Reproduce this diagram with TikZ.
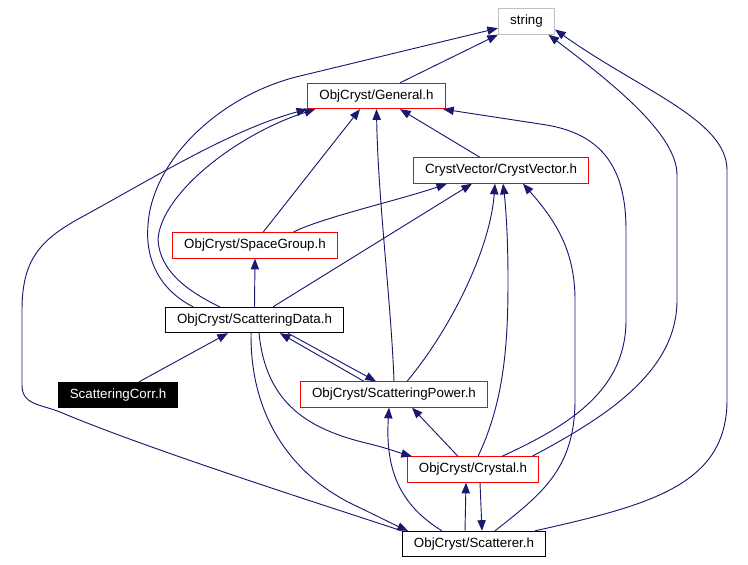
\documentclass[tikz,border=0pt]{standalone}
\usepackage{fontspec}
\setmainfont{Liberation Sans}
\usepackage{xcolor}
\usetikzlibrary{arrows.meta}
\definecolor{depblue}{RGB}{25,25,112}

\begin{document}
\begin{tikzpicture}[
    x=0.75pt, y=-0.75pt,
    box/.style={draw, align=center, minimum height=19pt, inner xsep=8.8pt, inner ysep=0pt,
                line width=0.75pt, font=\fontsize{10}{12}\selectfont},
    redbox/.style={box, draw=red},
    greybox/.style={box, draw=black!25},
    dep/.style={-{Triangle[length=8pt,width=6.2pt]}, draw=depblue, line width=0.7pt}
]
\useasboundingbox (0,0) rectangle (748,564);
\node[greybox] (str) at (526.5,21.5) {string};
\node[redbox] (gen) at (376.5,96) {ObjCryst/General.h};
\node[redbox] (cv) at (501,170.5) {CrystVector/CrystVector.h};
\node[redbox] (sg) at (255,245.5) {ObjCryst/SpaceGroup.h};
\node[box] (sd) at (254.5,320) {ObjCryst/ScatteringData.h};
\node[box, fill=black, text=white] (corr) at (118,395) {ScatteringCorr.h};
\node[redbox] (sp) at (394,394.5) {ObjCryst/ScatteringPower.h};
\node[redbox] (cr) at (473,469.5) {ObjCryst/Crystal.h};
\node[box] (sct) at (474,544) {ObjCryst/Scatterer.h};
\draw[dep] ([xshift=17.6pt]gen.north) -- (str.south west);
\draw[dep] ([xshift=-46pt]sd.north) .. controls (160,290) and (145,260) .. (148,225)
    .. controls (152,160) and (220,95) .. (300,76) -- ([yshift=-5pt]str.west);
\draw[dep] ([xshift=-26pt]sd.north) .. controls (185,290) and (160,270) .. (158,240)
    .. controls (160,195) and (235,135) .. ([xshift=6pt]gen.south west);
\draw[dep] (sct.north west) .. controls (330,507) and (150,450) .. (60,412)
    .. controls (40,404) and (22,405) .. (22,385) -- (22,310)
    .. controls (22,260) and (40,240) .. (80,218)
    .. controls (150,180) and (230,130) .. (gen.south west);
\draw[dep] ([xshift=6pt]sg.north) -- ([xshift=-12.4pt]gen.south);
\draw[dep] (sp.north) .. controls (391,300) and (378,200) .. (gen.south);
\draw[dep] ([xshift=-15.75pt]cv.north) -- ([xshift=17.6pt]gen.south);
\draw[dep] ([xshift=21.75pt]cr.north) .. controls (570,425) and (626,390) .. (626,320) -- (626,230)
    .. controls (626,165) and (600,132) .. (540,124) -- ([xshift=-2pt]gen.south east);
\draw[dep] ([xshift=44.25pt]cr.north) .. controls (610,415) and (677,370) .. (677,300) -- (677,175)
    .. controls (677,135) and (615,85) .. ([xshift=-5pt]str.south east);
\draw[dep] ([xshift=45.75pt]sct.north) .. controls (650,505) and (727,485) .. (727,400) -- (727,170)
    .. controls (727,120) and (640,90) .. ([yshift=-6pt]str.east);
\draw[dep] ([xshift=28.5pt]sg.north) .. controls (320,218) and (400,200) .. ([xshift=-40.5pt]cv.south);
\draw[dep] ([xshift=13.9pt]sd.north) -- ([xshift=-21.75pt]cv.south);
\draw[dep] ([xshift=9.75pt]sp.north) .. controls (450,330) and (490,250) .. ([xshift=-4.5pt]cv.south);
\draw[dep] ([xshift=3.75pt]cr.north) .. controls (505,400) and (508,340) .. (508,280)
    .. controls (508,230) and (505,200) .. ([xshift=1.5pt]cv.south);
\draw[dep] ([xshift=15.75pt]sct.north) .. controls (540,495) and (575,470) .. (575,400) -- (575,300)
    .. controls (575,250) and (555,220) .. ([xshift=16.5pt]cv.south);
\draw[dep] (sd.north) -- (sg.south);
\draw[dep] ([xshift=15.75pt]corr.north) -- ([xshift=-19.9pt]sd.south);
\draw[dep] ([xshift=-22.5pt]sp.north) -- ([xshift=19pt]sd.south);
\draw[dep] ([xshift=25pt]sd.south) -- ([xshift=-13.5pt]sp.north);
\draw[dep] ([xshift=3.4pt]sd.south) .. controls (266,405) and (310,430) .. (370,444)
    .. controls (390,449) and (400,453) .. ([xshift=-45.75pt]cr.north);
\draw[dep] ([xshift=-2.6pt]sd.south) .. controls (250,420) and (295,475) .. (350,503)
    .. controls (375,515) and (395,525) .. ([xshift=-49.5pt]sct.north);
\draw[dep] ([xshift=-24pt]sct.north) .. controls (400,505) and (385,470) .. ([xshift=-3.75pt]sp.south);
\draw[dep] ([xshift=-11.25pt]cr.north) -- ([xshift=13.5pt]sp.south);
\draw[dep] ([xshift=-6.75pt]sct.north) -- ([xshift=-5.25pt]cr.south);
\draw[dep] ([xshift=5.25pt]cr.south) -- ([xshift=6pt]sct.north);
\end{tikzpicture}
\end{document}
